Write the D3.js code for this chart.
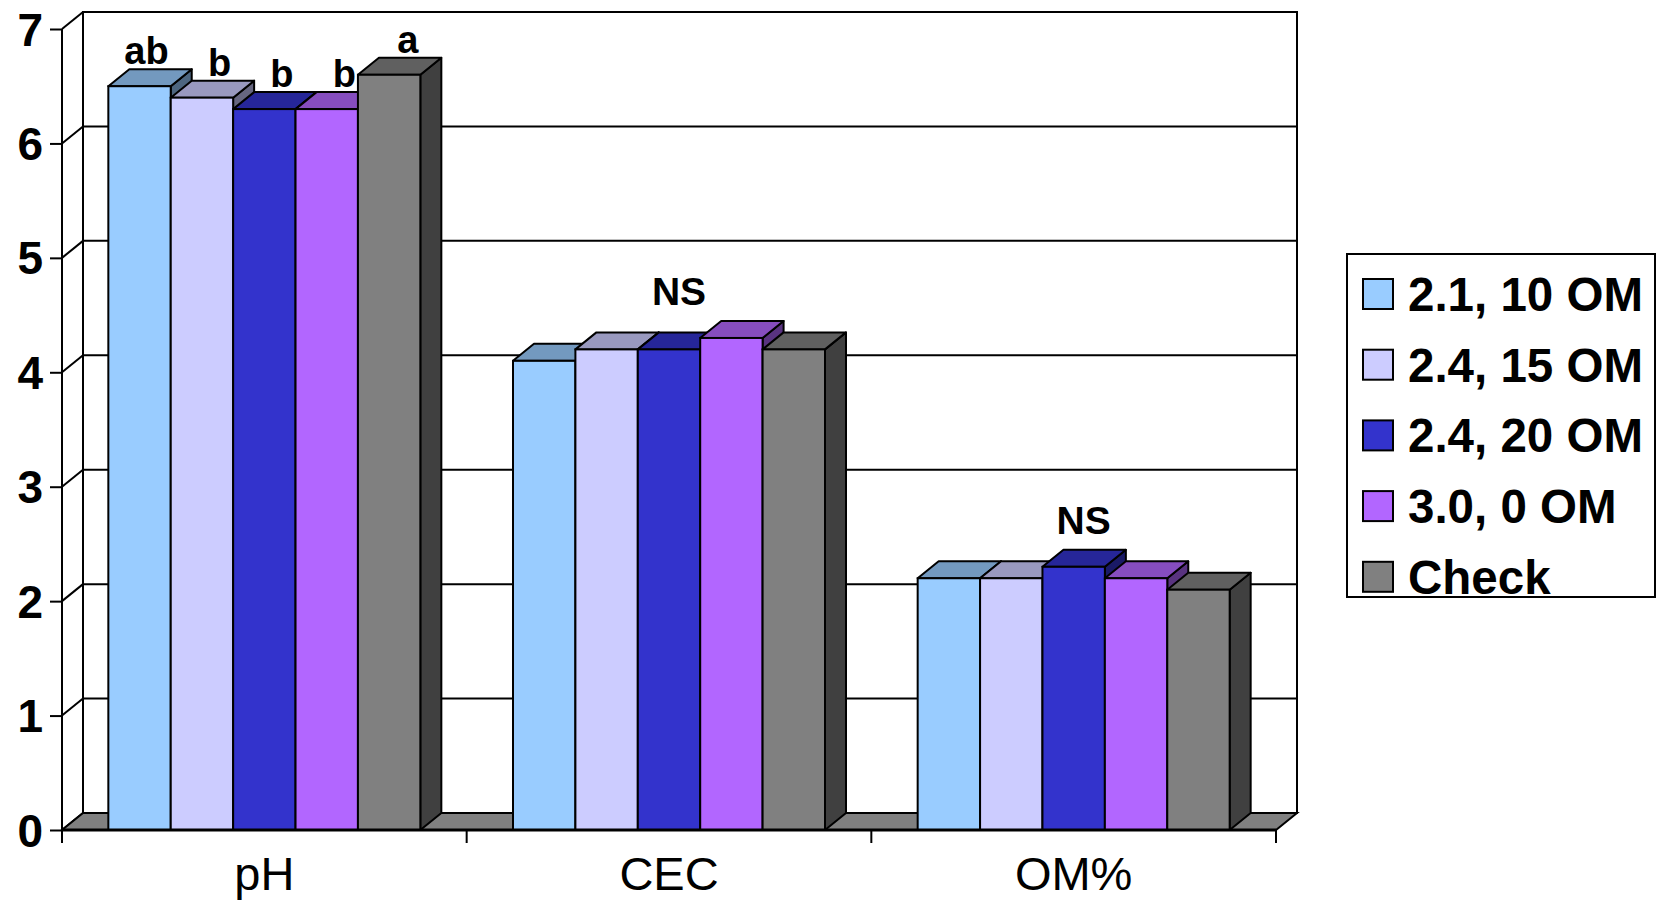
<!DOCTYPE html>
<html>
<head>
<meta charset="utf-8">
<script src="https://cdn.jsdelivr.net/npm/d3@7"></script>
<style>
  html, body { margin: 0; padding: 0; background: #fff; }
  svg { display: block; }
  text { font-family: "Liberation Sans", Arial, sans-serif; }
</style>
</head>
<body>
<svg id="chart" width="1657" height="900"></svg>
<script>
// ---------- data ----------
const categories = ["pH", "CEC", "OM%"];
const seriesNames = ["2.1, 10 OM", "2.4, 15 OM", "2.4, 20 OM", "3.0, 0 OM", "Check"];
const seriesColors = ["#99CCFF", "#CCCCFF", "#3333CC", "#B266FF", "#808080"];
// values[series][category]
const valuesS1 = [6.5, 4.1, 2.2];
const valuesS2 = [6.4, 4.2, 2.2];
const valuesS3 = [6.3, 4.2, 2.3];
const valuesS4 = [6.3, 4.3, 2.2];
const valuesS5 = [6.6, 4.2, 2.1];
const values = [valuesS1, valuesS2, valuesS3, valuesS4, valuesS5];
const yTicks = [0, 1, 2, 3, 4, 5, 6, 7];
// significance letters
const pHLetters = ["ab", "b", "b", "b", "a"];
const groupLabels = [null, "NS", "NS"];

// ---------- layout ----------
const svg = d3.select("#chart");
const plotLeft = 62, plotRight = 1276, floorY = 830, topY = 29;
const DX = 21, DY = -17;   // 3-D depth offset

const y = d3.scaleLinear().domain([0, 7]).range([floorY, topY]);
const x0 = d3.scaleBand().domain(categories).range([plotLeft, plotRight]).paddingInner(0).paddingOuter(0);
const groupW = x0.bandwidth() * 0.771;
const x1 = d3.scaleBand().domain(d3.range(seriesNames.length)).range([-groupW / 2, groupW / 2]).padding(0);

function shade(c, k) {
  const r = d3.rgb(c);
  return d3.rgb(r.r * k, r.g * k, r.b * k).formatHex();
}

// back wall
svg.append("rect")
  .attr("x", plotLeft + DX).attr("y", y(7) + DY)
  .attr("width", plotRight - plotLeft).attr("height", y(0) - y(7))
  .attr("fill", "#fff").attr("stroke", "#000").attr("stroke-width", 2);

// gridlines (back wall) + left wall diagonals
const g = svg.append("g");
yTicks.forEach(t => {
  if (t > 0 && t < 7) {
    g.append("line")
      .attr("x1", plotLeft + DX).attr("x2", plotRight + DX)
      .attr("y1", y(t) + DY).attr("y2", y(t) + DY)
      .attr("stroke", "#000").attr("stroke-width", 2);
  }
  g.append("line")
    .attr("x1", plotLeft).attr("y1", y(t))
    .attr("x2", plotLeft + DX).attr("y2", y(t) + DY)
    .attr("stroke", "#000").attr("stroke-width", 2);
});

// floor
svg.append("polygon")
  .attr("points", [
    [plotLeft, floorY], [plotRight, floorY],
    [plotRight + DX, floorY + DY], [plotLeft + DX, floorY + DY]
  ].map(p => p.join(",")).join(" "))
  .attr("fill", "#808080").attr("stroke", "#000").attr("stroke-width", 2);

// y axis (front)
const yAxis = d3.axisLeft(y).tickValues(yTicks).tickSize(12).tickFormat(d3.format("d"));
const ya = svg.append("g").attr("transform", `translate(${plotLeft},0)`).call(yAxis);
ya.select(".domain").attr("stroke", "#000").attr("stroke-width", 2)
  .attr("d", `M0,${y(7)}V${floorY}`);
ya.selectAll(".tick line").attr("stroke", "#000").attr("stroke-width", 2);
ya.selectAll(".tick text")
  .attr("x", -19).attr("dy", "0.35em")
  .attr("font-size", 46).attr("font-weight", "bold").attr("fill", "#000")
  .style("font-family", "'Liberation Sans', Arial, sans-serif");

// bars
const bars = svg.append("g");
categories.forEach((cat, ci) => {
  const cx = x0(cat) + x0.bandwidth() / 2;
  seriesNames.forEach((s, si) => {
    const v = values[si][ci];
    const xl = cx + x1(si), w = x1.bandwidth();
    const yt = y(v), yb = y(0);
    const col = seriesColors[si];
    const bg = bars.append("g");
    // side
    bg.append("polygon")
      .attr("points", [[xl + w, yt], [xl + w + DX, yt + DY], [xl + w + DX, yb + DY], [xl + w, yb]].map(p => p.join(",")).join(" "))
      .attr("fill", shade(col, 0.5)).attr("stroke", "#000").attr("stroke-width", 2).attr("stroke-linejoin", "round");
    // top
    bg.append("polygon")
      .attr("points", [[xl, yt], [xl + DX, yt + DY], [xl + w + DX, yt + DY], [xl + w, yt]].map(p => p.join(",")).join(" "))
      .attr("fill", shade(col, 0.75)).attr("stroke", "#000").attr("stroke-width", 2).attr("stroke-linejoin", "round");
    // front
    bg.append("rect")
      .attr("x", xl).attr("y", yt).attr("width", w).attr("height", yb - yt)
      .attr("fill", col).attr("stroke", "#000").attr("stroke-width", 2);
  });
});

// front x-axis line
svg.append("line")
  .attr("x1", plotLeft).attr("x2", plotRight).attr("y1", floorY).attr("y2", floorY)
  .attr("stroke", "#000").attr("stroke-width", 3);

// x axis ticks & labels
const xTicks = categories.map(c => x0(c)).concat([plotRight]);
svg.append("g").selectAll("line").data(xTicks).join("line")
  .attr("x1", d => d).attr("x2", d => d).attr("y1", floorY).attr("y2", floorY + 13)
  .attr("stroke", "#000").attr("stroke-width", 2);
svg.append("g").selectAll("text").data(categories).join("text")
  .attr("x", d => x0(d) + x0.bandwidth() / 2)
  .attr("y", 890)
  .attr("text-anchor", "middle")
  .attr("font-size", 47).attr("fill", "#000")
  .text(d => d);

// significance letters for pH
const labels = svg.append("g");
pHLetters.forEach((lab, si) => {
  const xr = x0(categories[0]) + x0.bandwidth() / 2 + x1(si) + x1.bandwidth() - 2;
  labels.append("text")
    .attr("x", xr).attr("y", y(values[si][0]) + DY - 5)
    .attr("text-anchor", "end")
    .attr("font-size", 38).attr("font-weight", "bold").attr("fill", "#000")
    .text(lab);
});
groupLabels.forEach((lab, ci) => {
  if (!lab) return;
  const mx = d3.max(values, s => s[ci]);
  labels.append("text")
    .attr("x", x0(categories[ci]) + x0.bandwidth() / 2 + 10)
    .attr("y", y(mx) + DY - 16)
    .attr("text-anchor", "middle")
    .attr("font-size", 39).attr("font-weight", "bold").attr("fill", "#000")
    .text(lab);
});

// legend
const lg = svg.append("g").attr("transform", "translate(1347,254)");
lg.append("rect").attr("x", 0).attr("y", 0).attr("width", 308).attr("height", 343)
  .attr("fill", "#fff").attr("stroke", "#000").attr("stroke-width", 2);
const items = lg.selectAll("g.item").data(seriesNames).join("g")
  .attr("transform", (d, i) => `translate(16,${25 + i * 70.7})`);
items.append("rect").attr("width", 30).attr("height", 30)
  .attr("fill", (d, i) => seriesColors[i]).attr("stroke", "#000").attr("stroke-width", 2);
items.append("text").attr("x", 45).attr("y", 32)
  .attr("font-size", 47.5).attr("font-weight", "bold").attr("fill", "#000")
  .text(d => d);
</script>
</body>
</html>
